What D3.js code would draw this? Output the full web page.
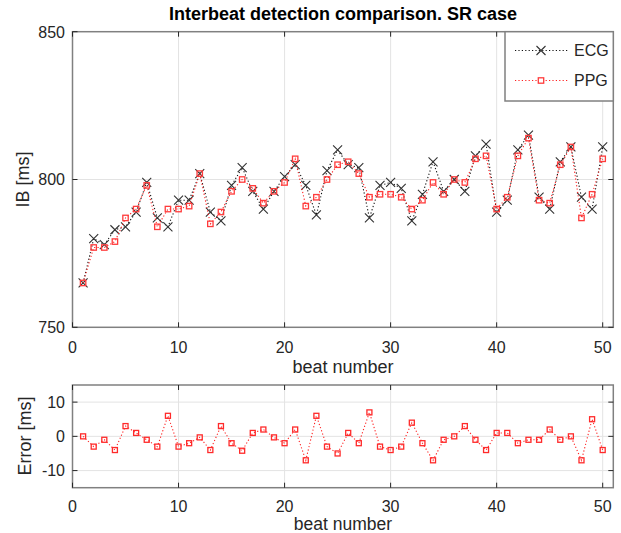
<!DOCTYPE html>
<html><head><meta charset="utf-8">
<script src="https://cdn.jsdelivr.net/npm/d3@7"></script>
<style>body{margin:0;background:#fff}svg{display:block;font-family:"Liberation Sans",Arial,sans-serif}</style>
</head><body>
<svg id="c" width="621" height="533"></svg>
<script>
const beats = [1,2,3,4,5,6,7,8,9,10,11,12,13,14,15,16,17,18,19,20,21,22,23,24,25,26,27,28,29,30,31,32,33,34,35,36,37,38,39,40,41,42,43,44,45,46,47,48,49,50];
const ecg = [765,780,778,783,784,789,799,787,784,793,793,802,789,786,798,804,796,790,796,801,805,798,788,803,810,805,804,787,798,799,797,786,795,806,796,800,796,808,812,789,793,810,815,794,790,806,811,794,790,811];
const ppg = [765,777,777,779,787,790,798,784,790,790,791,802,785,789,796,800,797,792,796,799,807,791,794,800,805,806,802,794,795,795,794,790,793,799,795,800,799,807,808,790,794,808,814,793,792,805,811,787,795,807];
const errs = [0,-3,-1,-4,3,1,-1,-3,6,-3,-2,-0.3,-4,3,-2,-4.2,1,2,-0.3,-2,2,-7,6,-3,-5,1,-2,7,-3,-4,-3,4,-2,-7,-1,0,3,-1,-4,1,1,-2,-1,-1,2,-1,0,-7,5,-4];
const xTicks = [0,10,20,30,40,50];
const yTicksTop = [750,800,850];
const yTicksBot = [-10,0,10];
const seriesNames = ["ECG","PPG"];

const svg = d3.select("#c");
const L = 72.5, R = 613.3;
const x = d3.scaleLinear().domain([0,51]).range([L,R]);
const yT = d3.scaleLinear().domain([750,850]).range([327.3,31.7]);
const yB = d3.scaleLinear().domain([-15,15]).range([487.7,385]);
const txt = "#262626", grid = "#e3e3e3", border = "#808080";

function panel(y, yTicks, top, bottom){
  const g = svg.append("g");
  g.append("rect").attr("x",L).attr("y",top).attr("width",R-L).attr("height",bottom-top).attr("fill","#fff");
  g.selectAll(".gx").data(xTicks.filter(t=>t>0)).enter().append("line")
    .attr("x1",d=>x(d)).attr("x2",d=>x(d)).attr("y1",top).attr("y2",bottom)
    .attr("stroke",grid).attr("stroke-width",1);
  g.selectAll(".gy").data(yTicks.filter(t=>y(t)>top+1 && y(t)<bottom-1)).enter().append("line")
    .attr("x1",L).attr("x2",R).attr("y1",d=>y(d)).attr("y2",d=>y(d))
    .attr("stroke",grid).attr("stroke-width",1);
  return g;
}
function frame(y, yTicks, top, bottom, labOff){
  const g = svg.append("g");
  g.append("rect").attr("x",L).attr("y",top).attr("width",R-L).attr("height",bottom-top)
    .attr("fill","none").attr("stroke",border).attr("stroke-width",1.5);
  const tl = 5;
  xTicks.forEach(t=>{
    g.append("line").attr("x1",x(t)).attr("x2",x(t)).attr("y1",bottom).attr("y2",bottom-tl).attr("stroke",txt).attr("stroke-width",1);
    g.append("line").attr("x1",x(t)).attr("x2",x(t)).attr("y1",top).attr("y2",top+tl).attr("stroke",txt).attr("stroke-width",1);
    g.append("text").attr("x",x(t)).attr("y",bottom+labOff).attr("text-anchor","middle")
      .attr("font-size",16).attr("fill",txt).text(t);
  });
  yTicks.forEach(t=>{
    g.append("line").attr("x1",L).attr("x2",L+tl).attr("y1",y(t)).attr("y2",y(t)).attr("stroke",txt).attr("stroke-width",1);
    g.append("line").attr("x1",R).attr("x2",R-tl).attr("y1",y(t)).attr("y2",y(t)).attr("stroke",txt).attr("stroke-width",1);
    g.append("text").attr("x",L-7.5).attr("y",y(t)+5.8).attr("text-anchor","end")
      .attr("font-size",16).attr("fill",txt).text(t);
  });
}
function xMarks(g, data, y, color){
  const s = 4.5;
  g.selectAll(null).data(data).enter().append("path")
    .attr("d",(d,i)=>{const cx=x(beats[i]), cy=y(d); return `M${cx-s},${cy-s}L${cx+s},${cy+s}M${cx-s},${cy+s}L${cx+s},${cy-s}`;})
    .attr("stroke",color).attr("stroke-width",1.1).attr("fill","none");
}
function sqMarks(g, data, y, color, s){
  g.selectAll(null).data(data).enter().append("rect")
    .attr("x",(d,i)=>x(beats[i])-s).attr("y",d=>y(d)-s).attr("width",2*s).attr("height",2*s)
    .attr("fill","none").attr("stroke",color).attr("stroke-width",1.3);
}
function dotLine(g, data, y, color){
  g.append("path").datum(data)
    .attr("d", d3.line().x((d,i)=>x(beats[i])).y(d=>y(d)))
    .attr("fill","none").attr("stroke",color).attr("stroke-width",1.1).attr("stroke-dasharray","1.2,2.2");
}

// Top panel
const gT = panel(yT, yTicksTop, 31.7, 327.3);
dotLine(gT, ecg, yT, "#111");
xMarks(gT, ecg, yT, "#333");
dotLine(gT, ppg, yT, "#ff2020");
sqMarks(gT, ppg, yT, "#ff3b3b", 2.7);
frame(yT, yTicksTop, 31.7, 327.3, 25.5);

// Legend
const lg = svg.append("g");
lg.append("rect").attr("x",505).attr("y",31.7).attr("width",R-505).attr("height",69.3)
  .attr("fill","#fff").attr("stroke",border).attr("stroke-width",1.5);
[[50.5,"#111","#333","x"],[80.5,"#ff2020","#ff3b3b","s"]].forEach((e,i)=>{
  const [ly,lc,mc,m] = e;
  lg.append("line").attr("x1",515).attr("x2",568).attr("y1",ly).attr("y2",ly)
    .attr("stroke",lc).attr("stroke-width",1.1).attr("stroke-dasharray","1.2,2.2");
  if(m==="x"){
    const s=4.5, cx=541;
    lg.append("path").attr("d",`M${cx-s},${ly-s}L${cx+s},${ly+s}M${cx-s},${ly+s}L${cx+s},${ly-s}`)
      .attr("stroke",mc).attr("stroke-width",1.1);
  } else {
    lg.append("rect").attr("x",541-2.7).attr("y",ly-2.7).attr("width",5.4).attr("height",5.4)
      .attr("fill","#fff").attr("stroke",mc).attr("stroke-width",1.3);
  }
  lg.append("text").attr("x",574).attr("y",ly+5.8).attr("font-size",16).attr("fill",txt).text(seriesNames[i]);
});

// Titles
svg.append("text").attr("x",343).attr("y",19.5).attr("text-anchor","middle")
  .attr("font-size",18).attr("font-weight","bold").attr("fill","#000")
  .text("Interbeat detection comparison. SR case");
svg.append("text").attr("x",343).attr("y",373).attr("text-anchor","middle")
  .attr("font-size",18).attr("fill",txt).text("beat number");
svg.append("text").attr("transform","translate(28.5,179.5) rotate(-90)").attr("text-anchor","middle")
  .attr("font-size",18).attr("fill",txt).text("IB [ms]");

// Bottom panel
const gB = panel(yB, yTicksBot, 385, 487.7);
dotLine(gB, errs, yB, "#ff2020");
sqMarks(gB, errs, yB, "#ff2a2a", 2.5);
frame(yB, yTicksBot, 385, 487.7, 24.5);
svg.append("text").attr("x",343).attr("y",529.5).attr("text-anchor","middle")
  .attr("font-size",17.5).attr("fill",txt).text("beat number");
svg.append("text").attr("transform","translate(31,436) rotate(-90)").attr("text-anchor","middle")
  .attr("font-size",18).attr("fill",txt).text("Error [ms]");
</script>
</body></html>
